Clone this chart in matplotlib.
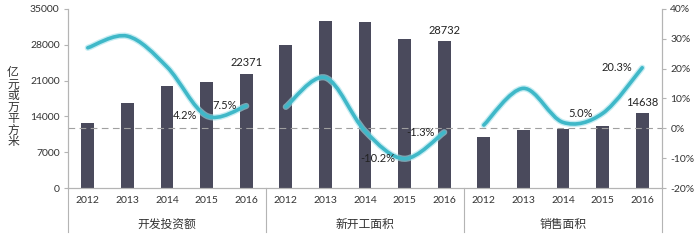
import matplotlib
matplotlib.use("Agg")
import matplotlib.pyplot as plt
import numpy as np
from matplotlib.path import Path
from matplotlib.patches import PathPatch
import matplotlib.transforms as mtransforms

plt.rcParams['font.family'] = ['Lato', 'Noto Sans CJK SC', 'DejaVu Sans']

years = ['2012', '2013', '2014', '2015', '2016']
groups = ['开发投资额', '新开工面积', '销售面积']

invest = [12650, 16560, 19970, 20810, 22371]
new_start = [27960, 32700, 32416, 29110, 28732]
sales = [10019, 11362, 11589, 12168, 14638]

invest_pct = [27.0, 30.9, 20.6, 4.2, 7.5]
new_start_pct = [7.2, 17.0, -0.9, -10.2, -1.3]
sales_pct = [1.1, 13.4, 2.0, 5.0, 20.3]

bar_labels = [22371, 28732, 14638]
pct_labels = [(3, 4.2), (4, 7.5), (3, -10.2), (4, -1.3), (3, 5.0), (4, 20.3)]

bar_color = '#4a4a5c'
line_color = '#3fb8c8'
axis_color = '#b4b4b4'
text_color = '#333333'

fig = plt.figure(figsize=(7, 2.43), dpi=100)
ax = fig.add_axes([68 / 700, 55 / 243, 594 / 700, 179 / 243])
ax2 = ax.twinx()

all_bars = [invest, new_start, sales]
all_pct = [invest_pct, new_start_pct, sales_pct]


def smooth_path(xs, ys):
    pts = np.column_stack([xs, ys])
    n = len(pts)
    verts = [pts[0]]
    codes = [Path.MOVETO]
    for i in range(n - 1):
        p0 = pts[max(i - 1, 0)]
        p1 = pts[i]
        p2 = pts[i + 1]
        p3 = pts[min(i + 2, n - 1)]
        c1 = p1 + (p2 - p0) / 6
        c2 = p2 - (p3 - p1) / 6
        verts += [c1, c2, p2]
        codes += [Path.CURVE4] * 3
    return Path(verts, codes)


for g in range(3):
    xs = np.arange(5) + g * 5
    ax.bar(xs, all_bars[g], width=0.32, color=bar_color, zorder=2)
    path = smooth_path(xs, all_pct[g])
    ax2.add_patch(PathPatch(path, fill=False, edgecolor='#9fe0ea', lw=4.5, alpha=0.6,
                            capstyle='round', zorder=3))
    ax2.add_patch(PathPatch(path, fill=False, edgecolor=line_color, lw=2.6,
                            capstyle='round', zorder=4))
    top = all_bars[g][4]
    ax.annotate(str(bar_labels[g]), (xs[4], top), xytext=(0, 4), textcoords='offset points',
                ha='center', va='bottom', fontsize=8, color='#222222', zorder=5)
    for k, v in pct_labels[g * 2:g * 2 + 2]:
        ax2.annotate(f'{v:.1f}%', (xs[k], all_pct[g][k]), xytext=(-7, 0),
                     textcoords='offset points', ha='right', va='center',
                     fontsize=8, color='#222222', zorder=5)

ax.set_xlim(-0.5, 14.5)
ax.set_ylim(0, 35000)
ax.set_yticks(np.arange(0, 35001, 7000))
ax2.set_ylim(-20, 40)
ax2.set_yticks(np.arange(-20, 41, 10))
ax2.set_yticklabels([f'{v}%' for v in range(-20, 41, 10)])

ax.set_xticks(np.arange(15))
ax.set_xticklabels(years * 3)
ax.tick_params(axis='x', length=0, pad=6, labelsize=7.5, colors=text_color)
ax.tick_params(axis='y', length=3, width=0.8, color=axis_color, labelsize=7.5,
               labelcolor=text_color, pad=3)
ax2.tick_params(axis='y', length=3, width=0.8, color=axis_color, labelsize=7.5,
                labelcolor=text_color, pad=3)

for a in (ax, ax2):
    for s in a.spines.values():
        s.set_color(axis_color)
        s.set_linewidth(0.8)
    a.spines['top'].set_visible(False)

ax2.axhline(0, color='#a0a0a0', lw=0.8, ls=(0, (6, 4)), zorder=1)

trans = mtransforms.blended_transform_factory(ax.transData, ax.transAxes)
for xsep in [-0.5, 4.5, 9.5, 14.5]:
    ax.plot([xsep, xsep], [0, -44 / 179], color=axis_color, lw=0.8,
            transform=trans, clip_on=False)
for g in range(3):
    ax.text(g * 5 + 2, -36 / 179, groups[g], transform=trans, ha='center', va='center',
            fontsize=8.5, color=text_color)

fig.text(13 / 700, 1 - 107 / 243, '\n'.join('亿元或万平方米'), ha='center', va='center',
         fontsize=8.5, color=text_color, linespacing=1.05)

fig.savefig('out.png', dpi=100)
